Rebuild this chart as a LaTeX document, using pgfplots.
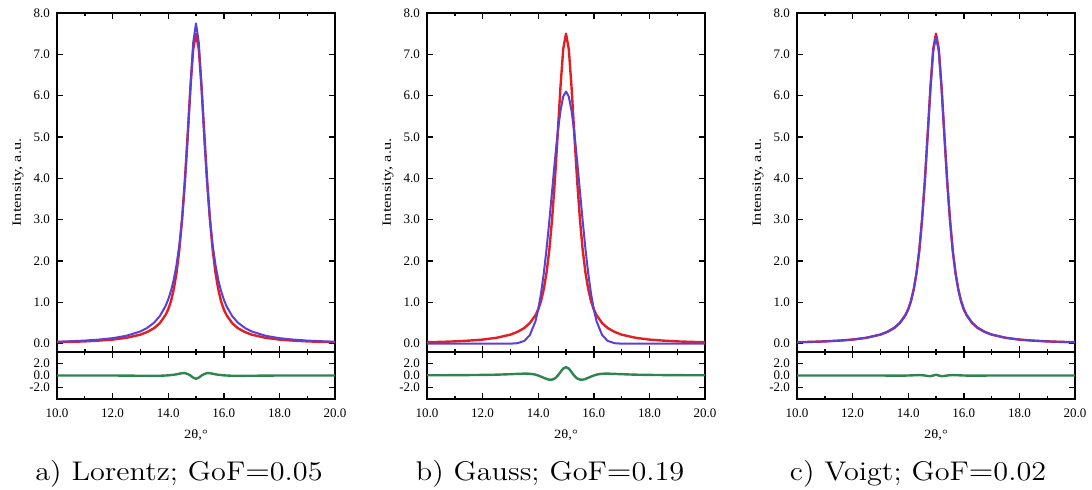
\documentclass[border=0pt]{standalone}
\usepackage{fontspec}
\newfontfamily\tnr{Liberation Serif}
\usepackage{pgfplots}
\usepackage{pgfplotstable}
\pgfplotsset{compat=1.18}

\definecolor{refred}{RGB}{226,32,36}
\definecolor{fitblue}{RGB}{92,64,214}
\definecolor{resgreen}{RGB}{48,132,78}

% x, measured profile, Lorentz / Gauss / Voigt fits, residuals a/b/c
\pgfplotstableread{
x     meas  lor   gau   voi   ra     rb     rc
10.0  0.037 0.049 0.000 0.035  0.00  0.04   0.00
10.5  0.045 0.061 0.000 0.044  0.00  0.045  0.00
11.0  0.057 0.077 0.000 0.056  0.00  0.06   0.00
11.5  0.075 0.100 0.000 0.074  0.00  0.075  0.00
12.0  0.100 0.135 0.000 0.100  0.00  0.10   0.00
12.5  0.144 0.193 0.000 0.145 -0.02  0.14   0.00
13.0  0.220 0.298 0.002 0.225 -0.04  0.22   0.00
13.25 0.286 0.385 0.013 0.290 -0.05  0.27  -0.01
13.5  0.380 0.515 0.068 0.390 -0.06  0.31  -0.02
13.7  0.500 0.670 0.210 0.510 -0.04  0.29  -0.02
13.9  0.690 0.905 0.540 0.700  0.00  0.15  -0.01
14.0  0.830 1.070 0.830 0.840  0.03  0.00   0.00
14.1  1.030 1.280 1.210 1.040  0.08 -0.18   0.02
14.2  1.320 1.550 1.700 1.320  0.12 -0.38   0.04
14.3  1.720 1.910 2.290 1.710  0.20 -0.57   0.06
14.4  2.270 2.385 2.970 2.260  0.30 -0.70   0.08
14.5  3.020 3.020 3.700 3.020  0.38 -0.68   0.05
14.6  3.950 3.875 4.430 3.950  0.40 -0.48   0.00
14.7  5.060 4.960 5.100 5.050  0.25 -0.04  -0.08
14.8  6.200 6.200 5.630 6.180  0.00  0.57  -0.10
14.9  7.130 7.290 5.980 7.080 -0.35  1.15   0.00
15.0  7.500 7.750 6.100 7.420 -0.55  1.40   0.12
15.1  7.130 7.290 5.980 7.080 -0.35  1.15   0.00
15.2  6.200 6.200 5.630 6.180  0.00  0.57  -0.10
15.3  5.060 4.960 5.100 5.050  0.25 -0.04  -0.08
15.4  3.950 3.875 4.430 3.950  0.40 -0.48   0.00
15.5  3.020 3.020 3.700 3.020  0.38 -0.68   0.05
15.6  2.270 2.385 2.970 2.260  0.30 -0.70   0.08
15.7  1.720 1.910 2.290 1.710  0.20 -0.57   0.06
15.8  1.320 1.550 1.700 1.320  0.12 -0.38   0.04
15.9  1.030 1.280 1.210 1.040  0.08 -0.18   0.02
16.0  0.830 1.070 0.830 0.840  0.03  0.00   0.00
16.1  0.690 0.905 0.540 0.700  0.00  0.15  -0.01
16.3  0.500 0.670 0.210 0.510 -0.04  0.29  -0.02
16.5  0.380 0.515 0.068 0.390 -0.06  0.31  -0.02
16.75 0.286 0.385 0.013 0.290 -0.05  0.27  -0.01
17.0  0.220 0.298 0.002 0.225 -0.04  0.22   0.00
17.5  0.144 0.193 0.000 0.145 -0.02  0.14   0.00
18.0  0.100 0.135 0.000 0.100  0.00  0.10   0.00
18.5  0.075 0.100 0.000 0.074  0.00  0.075  0.00
19.0  0.057 0.077 0.000 0.056  0.00  0.06   0.00
19.5  0.045 0.061 0.000 0.044  0.00  0.045  0.00
20.0  0.037 0.049 0.000 0.035  0.00  0.04   0.00
}\profile

\pgfplotsset{
  panel/.style={
    scale only axis, width=139pt, anchor=south west,
    xmin=10, xmax=20,
    xtick={10,12,...,20}, minor xtick={11,13,...,19},
    tick align=inside, tick pos=both, ticklabel pos=left,
    major tick length=2.8pt, minor tick length=1.5pt,
    tick style={black, line width=0.7pt},
    axis line style={line width=0.8pt},
    tick label style={font=\fontsize{6.5}{7}\tnr},
    label style={font=\fontsize{6.3}{7}\tnr},
    clip=true,
  },
  mainpanel/.style={panel, height=169.5pt,
    ymin=-0.2, ymax=8, ytick={0,1,...,8},
    yticklabels={0.0,1.0,2.0,3.0,4.0,5.0,6.0,7.0,8.0},
    xticklabels={},
    ylabel={\scalebox{1.3}[1]{Intensity, a.u.}},
    ylabel style={at={(axis description cs:-0.14,0.5)}, anchor=center},
  },
  respanel/.style={panel, height=23.5pt,
    ymin=-3.9, ymax=3.9, ytick={-2,0,2},
    yticklabels={-2.0,0.0,2.0},
    xticklabels={10.0,12.0,14.0,16.0,18.0,20.0},
    xticklabel style={yshift=-1.5pt},
    xlabel={\scalebox{1.15}[1]{2θ,°}},
    xlabel style={at={(axis description cs:0.5,-0.77)}, anchor=center},
  },
  meas/.style={refred, line width=1.2pt, line join=round},
  fit/.style={fitblue, line width=1pt, line join=round},
  res/.style={resgreen, line width=1.2pt, smooth},
}

\begin{document}
\begin{tikzpicture}
\useasboundingbox (0,0) rectangle (546pt,244.5pt);

% a) Lorentz
\begin{axis}[mainpanel, at={(28.5pt,68.5pt)}]
\addplot[meas] table[x=x, y=meas] {\profile};
\addplot[fit] table[x=x, y=lor] {\profile};
\end{axis}
\begin{axis}[respanel, at={(28.5pt,45pt)}]
\addplot[res] table[x=x, y=ra] {\profile};
\end{axis}

% b) Gauss
\begin{axis}[mainpanel, at={(213.5pt,68.5pt)}]
\addplot[meas] table[x=x, y=meas] {\profile};
\addplot[fit] table[x=x, y=gau] {\profile};
\end{axis}
\begin{axis}[respanel, at={(213.5pt,45pt)}]
\addplot[res] table[x=x, y=rb] {\profile};
\end{axis}

% c) Voigt
\begin{axis}[mainpanel, at={(398.5pt,68.5pt)}]
\addplot[meas] table[x=x, y=meas] {\profile};
\addplot[fit] table[x=x, y=voi] {\profile};
\end{axis}
\begin{axis}[respanel, at={(398.5pt,45pt)}]
\addplot[res] table[x=x, y=rc] {\profile};
\end{axis}

\node[anchor=base, font=\fontsize{13.5}{16}\selectfont] at (89.5pt,4.5pt)
  {\scalebox{1.12}[1]{a) Lorentz; GoF$=$0.05}};
\node[anchor=base, font=\fontsize{13.5}{16}\selectfont] at (275pt,4.5pt)
  {\scalebox{1.12}[1]{b) Gauss; GoF$=$0.19}};
\node[anchor=base, font=\fontsize{13.5}{16}\selectfont] at (459pt,4.5pt)
  {\scalebox{1.12}[1]{c) Voigt; GoF$=$0.02}};
\end{tikzpicture}
\end{document}
